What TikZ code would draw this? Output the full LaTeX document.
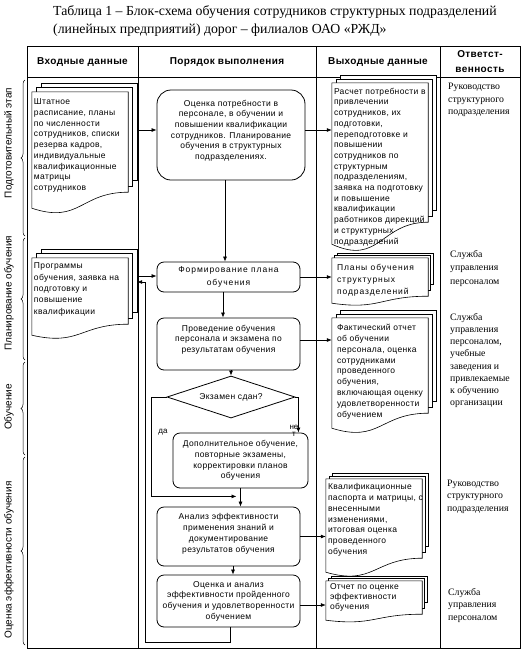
\documentclass[tikz,border=0pt]{standalone}
\usepackage{fontspec}
\setmainfont{Liberation Serif}
\newfontfamily\arialx[LetterSpace=4]{Liberation Sans}
\newfontfamily\arialw[LetterSpace=11]{Liberation Sans}
\newfontfamily\arialy{Liberation Sans}
\usetikzlibrary{arrows.meta,calc,shapes.geometric,decorations.pathreplacing}
\newcommand{\bodyf}{\arialx\fontsize{8.5}{10.7}\selectfont}
% multi-document outline around a node: name, sheet offset, wave amplitude
\newcommand{\mdoc}[3]{%
  \path[docline] ($(#1.south west)+({2*#2},{#3+12})$) rectangle ($(#1.north east)+({2*#2},{2*#2})$);
  \path[docline] ($(#1.south west)+({#2},{#3+6})$) rectangle ($(#1.north east)+({#2},{#2})$);
  \path[docline] (#1.south west) -- (#1.north west) -- (#1.north east) -- ($(#1.south east)+(0,{#3})$)
     .. controls ($(#1.south)+(0,{#3})$) and ($(#1.south)+(0,{-#3})$) .. (#1.south west) -- cycle;
}
\tikzset{
  tline/.style={line width=0.8pt},
  proc/.style={draw, line width=0.8pt, rounded corners=7pt, align=center, font=\bodyf, inner sep=0pt, fill=white},
  docline/.style={draw, line width=0.6pt, fill=white},
  docarea/.style={inner sep=0pt},
  dtext/.style={align=left, inner sep=0pt, anchor=north west, font=\bodyf},
  arr/.style={-{Latex[length=5pt,width=4pt]}, line width=0.7pt},
  rtext/.style={align=left, inner sep=0pt, anchor=north west},
  hdr/.style={font=\arialx\bfseries\fontsize{10}{15}\selectfont, align=center, inner sep=0pt},
  side/.style={rotate=90, font=\arialy\fontsize{10}{12}\selectfont, inner sep=0pt},
  brc/.style={decorate, decoration={brace, amplitude=4pt}, line width=0.5pt},
  captxt/.style={font=\fontsize{13.8}{16}\selectfont, inner sep=0pt, anchor=west},
  lbl/.style={font=\arialy\fontsize{8}{7.5}\selectfont, inner sep=0pt, align=center},
}
\begin{document}
\begin{tikzpicture}[x=1pt,y=1pt]
\useasboundingbox (0,0) rectangle (527,-657);
% caption
\node[captxt] (cap1) at (53,-12) {Таблица 1 – Блок-схема обучения сотрудников структурных подразделений};
\node[captxt] (cap2) at (53,-30) {(линейных предприятий) дорог – филиалов ОАО «РЖД»};
% table
\draw[tline] (27,-46) rectangle (520,-648);
\draw[tline] (27,-77) -- (520,-77);
\foreach \x in {138,316,440} \draw[tline] (\x,-46) -- (\x,-648);
% header
\node[hdr] (h1) at (82.5,-62) {Входные данные};
\node[hdr] (h2) at (227,-62) {Порядок выполнения};
\node[hdr] (h3) at (378,-62) {Выходные данные};
\node[hdr] (h4) at (480,-61.5) {Ответст-\\венность};
% side labels and braces
\node[side] (s1) at (9,-143) {Подготовительный этап};
\node[side] (s2) at (9,-293) {Планирование обучения};
\node[side] (s3) at (9,-407) {Обучение};
\node[side] (s4) at (9,-560) {Оценка эффективности обучения};
\coordinate (b1a) at (25,-236); \coordinate (b1b) at (25,-80);
\coordinate (b2a) at (25,-360); \coordinate (b2b) at (25,-238);
\coordinate (b3a) at (25,-455); \coordinate (b3b) at (25,-362);
\coordinate (b4a) at (25,-645); \coordinate (b4b) at (25,-457);
\draw[brc] (b1a) -- (b1b);
\draw[brc] (b2a) -- (b2b);
\draw[brc] (b3a) -- (b3b);
\draw[brc] (b4a) -- (b4b);
% input documents
\node[docarea, minimum width=96pt, minimum height=116pt] (docA) at (80,-150) {};
\mdoc{docA}{4.5}{16}
\node[dtext] (docAt) at ($(docA.north west)+(2,-7)$) {Штатное\\расписание, планы\\по численности\\сотрудников, списки\\резерва кадров,\\индивидуальные\\квалификационные\\матрицы\\сотрудников};
\node[docarea, minimum width=96pt, minimum height=77pt] (docB) at (80,-296.5) {};
\mdoc{docB}{4.5}{11}
\node[dtext, font=\arialx\fontsize{8.5}{11.3}\selectfont] (docBt) at ($(docB.north west)+(2,-5)$) {Программы\\обучения, заявка на\\подготовку и\\повышение\\квалификации};
% output documents
\node[docarea, minimum width=96pt, minimum height=161pt] (docC) at (380,-163.5) {};
\mdoc{docC}{4}{22}
\node[dtext] (docCt) at ($(docC.north west)+(2,-5)$) {Расчет потребности в\\привлечении\\сотрудников, их\\подготовки,\\переподготовке и\\повышении\\сотрудников по\\структурным\\подразделениям,\\заявка на подготовку\\и повышение\\квалификации\\работников дирекций\\и структурных\\подразделений};
\node[docarea, minimum width=96pt, minimum height=45pt] (docD) at (380,-280.5) {};
\mdoc{docD}{2.5}{7}
\node[dtext, font=\arialw\fontsize{8.5}{12}\selectfont] (docDt) at ($(docD.north west)+(5,-6)$) {Планы обучения\\структурных\\подразделений};
\node[docarea, minimum width=96pt, minimum height=110pt] (docE) at (380,-373) {};
\mdoc{docE}{4}{15}
\node[dtext, font=\arialx\fontsize{8.5}{10.9}\selectfont] (docEt) at ($(docE.north west)+(5,-6)$) {Фактический отчет\\об обучении\\персонала, оценка\\сотрудниками\\проведенного\\обучения,\\включающая оценку\\удовлетворенности\\обучением};
\node[docarea, minimum width=96pt, minimum height=93pt] (docF) at (374,-525.5) {};
\mdoc{docF}{3}{14}
\node[dtext, font=\arialx\fontsize{8.5}{10.8}\selectfont] (docFt) at ($(docF.north west)+(2,-4.5)$) {Квалификационные\\паспорта и матрицы, с\\внесенными\\изменениями,\\итоговая оценка\\проведенного\\обучения};
\node[docarea, minimum width=96pt, minimum height=39pt] (docG) at (374,-600.5) {};
\mdoc{docG}{2.5}{6}
\node[dtext, font=\arialx\fontsize{8.5}{9.8}\selectfont] (docGt) at ($(docG.north west)+(4,-2.5)$) {Отчет по оценке\\эффективности\\обучения};
% process boxes
\node[proc, rounded corners=14pt, minimum width=148pt, minimum height=90pt] (box1) at (231,-135) {Оценка потребности в\\персонале, в обучении и\\повышении квалификации\\сотрудников. Планирование\\обучения в структурных\\подразделениях.\\\mbox{}};
\node[proc, minimum width=143pt, minimum height=30pt, font=\arialw\fontsize{8.5}{12.6}\selectfont] (box2) at (228.5,-277) {Формирование плана\\обучения};
\node[proc, minimum width=143pt, minimum height=52pt] (box3) at (228.5,-344) {Проведение обучения\\персонала и экзамена по\\результатам обучения\\\mbox{}};
\node[draw, diamond, aspect=3.05, minimum width=128pt, minimum height=42pt, inner sep=0pt, line width=0.8pt, fill=white, font=\bodyf] (dec) at (231,-397) {Экзамен сдан?};
\node[proc, minimum width=135pt, minimum height=55pt] (box4) at (240.5,-460.5) {Дополнительное обучение,\\повторные экзамены,\\корректировки планов\\обучения};
\node[proc, minimum width=143pt, minimum height=59pt] (box5) at (228.5,-536.5) {Анализ эффективности\\применения знаний и\\документирование\\результатов обучения\\[-3.5pt]\mbox{}};
\node[proc, minimum width=143pt, minimum height=52pt] (box6) at (228.5,-601) {Оценка и анализ\\эффективности пройденного\\обучения и удовлетворенности\\обучением};
% branch labels
\node[lbl] (yes) at (163,-432) {да};
\node[lbl] (no) at (294,-431) {не\\т};
% connectors
\draw[arr] ($(docA.east |- box1.west)+(9,5)$) -- ([yshift=5pt]box1.west);
\draw[arr] ([yshift=5pt]box1.east) -- ([yshift=5pt]box1.east -| docC.west);
\draw[arr] ([xshift=-6pt]box1.south) -- ([xshift=-6pt]box1.south |- box2.north);
\draw[arr] ($(docB.east |- box2.west)+(9,1)$) -- ([yshift=1pt]box2.west);
\draw[arr] (box2.east) -- (box2.east -| docD.west);
\draw[arr] ([xshift=-5.5pt]box2.south) -- ([xshift=-5.5pt]box2.south |- box3.north);
\draw[arr] ([yshift=4pt]box3.east) -- ([yshift=4pt]box3.east -| docE.west);
\draw[arr] (dec.north |- box3.south) -- (dec.north);
\draw[arr] (dec.east) -| ($(box4.north east)+(-10,0)$);
\coordinate (yesend) at ($(box4.south)+(-4,-8)$);
\draw[arr] (dec.west) -- ++(-15,0) |- (yesend);
\draw[arr] (box4.south) -- (box4.south |- box5.north);
\draw[arr] (box5.east) -- (box5.east -| docF.west);
\draw[arr] ([xshift=4.5pt]box5.south) -- ([xshift=4.5pt]box5.south |- box6.north);
\draw[arr] ([yshift=-4pt]box6.east) -- ([yshift=-4pt]box6.east -| docG.west);
\coordinate (fbx) at (145,-282);
\draw[arr] ([xshift=1.5pt]box6.south) -- ++(0,-15) -| (fbx) -- ($(docB.east |- fbx)+(9,0)$);
% responsibility column
\node[rtext, font=\fontsize{9.8}{12.5}\selectfont] (r1) at (448,-83) {Руководство\\структурного\\подразделения};
\node[rtext, font=\fontsize{9.8}{13.5}\selectfont] (r2) at (450,-250) {Служба\\управления\\персоналом};
\node[rtext, font=\fontsize{9.8}{12.2}\selectfont] (r3) at (450,-313) {Служба\\управления\\персоналом,\\учебные\\заведения и\\привлекаемые\\к обучению\\организации};
\node[rtext, font=\fontsize{9.8}{12.2}\selectfont] (r4) at (447,-480) {Руководство\\структурного\\подразделения};
\node[rtext, font=\fontsize{9.8}{12.5}\selectfont] (r5) at (448,-588) {Служба\\управления\\персоналом};
\end{tikzpicture}
\end{document}
